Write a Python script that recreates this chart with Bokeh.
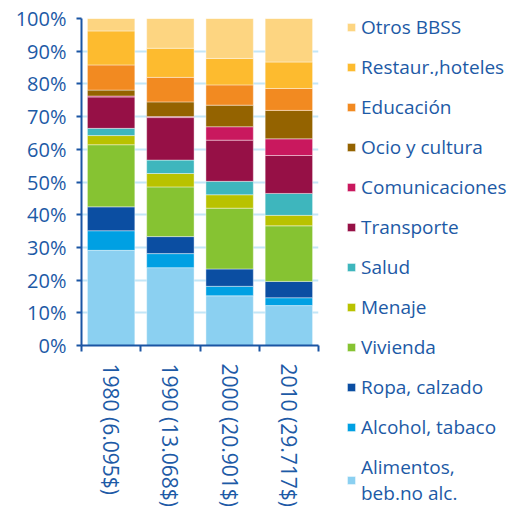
from bokeh.plotting import figure
from bokeh.models import (ColumnDataSource, Range1d, FixedTicker, PrintfTickFormatter,
                          Legend, LegendItem)
from bokeh.embed import file_html
from bokeh.resources import INLINE

# ---- data (shares of household spending, %) ----
periods = ["1980 (6.095$)", "1990 (13.068$)", "2000 (20.901$)", "2010 (29.717$)"]
categories = ["Alimentos,\nbeb.no alc.", "Alcohol, tabaco", "Ropa, calzado", "Vivienda",
              "Menaje", "Salud", "Transporte", "Comunicaciones", "Ocio y cultura",
              "Educación", "Restaur.,hoteles", "Otros BBSS"]
alimentos = [29.1, 23.8, 15.2, 12.2]
alcohol = [6.0, 4.3, 2.9, 2.4]
ropa = [7.3, 5.2, 5.3, 5.0]
vivienda = [19.0, 15.2, 18.6, 17.0]
menaje = [2.8, 4.1, 4.1, 3.2]
salud = [2.2, 4.1, 4.1, 6.7]
transporte = [9.6, 13.0, 12.6, 11.6]
comunicaciones = [0.3, 0.3, 4.1, 5.1]
ocio = [1.8, 4.5, 6.6, 8.7]
educacion = [7.7, 7.5, 6.2, 6.7]
restaur = [10.4, 8.9, 8.1, 8.1]
otros = [3.8, 9.1, 12.2, 13.3]
y_ticks = list(range(0, 101, 10))

colors = ["#8BD0F1", "#00A0E3", "#0B4EA2", "#86C332", "#B9C200", "#3EB6BD",
          "#961046", "#C9185E", "#946300", "#F28A21", "#FDBB2F", "#FDD581"]
series = [alimentos, alcohol, ropa, vivienda, menaje, salud, transporte,
          comunicaciones, ocio, educacion, restaur, otros]

TXT = "#1D5AA6"
AX = "#1A55A3"
FONT = "Open Sans"

keys = ["s%d" % i for i in range(len(categories))]
data = {"x": [i + 0.5 for i in range(len(periods))]}
for k, s in zip(keys, series):
    data[k] = s
src = ColumnDataSource(data)

p = figure(x_range=Range1d(0, len(periods)), y_range=Range1d(0, 100),
           frame_width=237, frame_height=327, min_border_left=81, min_border_top=18,
           min_border_right=188, output_backend="svg", toolbar_location=None)
rends = p.vbar_stack(keys, x="x", width=0.8, color=colors, source=src,
                     line_color="white", line_alpha=0.5, line_width=0.8)

p.outline_line_color = None
p.xgrid.grid_line_color = None
p.ygrid.grid_line_color = "#C3E6F7"
p.ygrid.grid_line_width = 2
p.ygrid.ticker = FixedTicker(ticks=y_ticks)

p.yaxis.ticker = FixedTicker(ticks=y_ticks)
p.yaxis.formatter = PrintfTickFormatter(format="%d%%")
p.xaxis.ticker = FixedTicker(ticks=data["x"], minor_ticks=list(range(len(periods) + 1)))
p.xaxis.major_label_overrides = {xx: lab for xx, lab in zip(data["x"], periods)}
p.xaxis.major_label_orientation = "vertical"
for ax in (p.xaxis, p.yaxis):
    ax.axis_line_color = AX
    ax.axis_line_width = 2
    ax.major_tick_line_color = AX
    ax.major_tick_line_width = 2
    ax.minor_tick_line_color = AX
    ax.minor_tick_line_width = 2
    ax.major_label_text_color = TXT
    ax.major_label_text_font = FONT
p.yaxis.major_label_text_font_size = "20px"
p.xaxis.major_label_text_font_size = "21px"
p.yaxis.major_tick_out = 5
p.yaxis.major_tick_in = 0
p.yaxis.minor_tick_out = 0
p.yaxis.minor_tick_in = 0
p.yaxis.major_label_standoff = 10
p.xaxis.major_tick_out = 0
p.xaxis.major_tick_in = 0
p.xaxis.minor_tick_out = 6
p.xaxis.minor_tick_in = 0
p.xaxis.major_label_standoff = 12

items = [LegendItem(label=categories[i], renderers=[rends[i]]) for i in range(len(categories))][::-1]
legend = Legend(items=items, location=(28, -161), margin=0, padding=0,
                glyph_width=10, glyph_height=10, label_standoff=5, spacing=14,
                label_text_font=FONT, label_text_font_size="19px", label_text_color=TXT,
                label_text_line_height=1.05,
                label_height=26, border_line_color=None, background_fill_alpha=0)
p.add_layout(legend, "right")

open("out.html", "w").write(file_html(p, INLINE))
